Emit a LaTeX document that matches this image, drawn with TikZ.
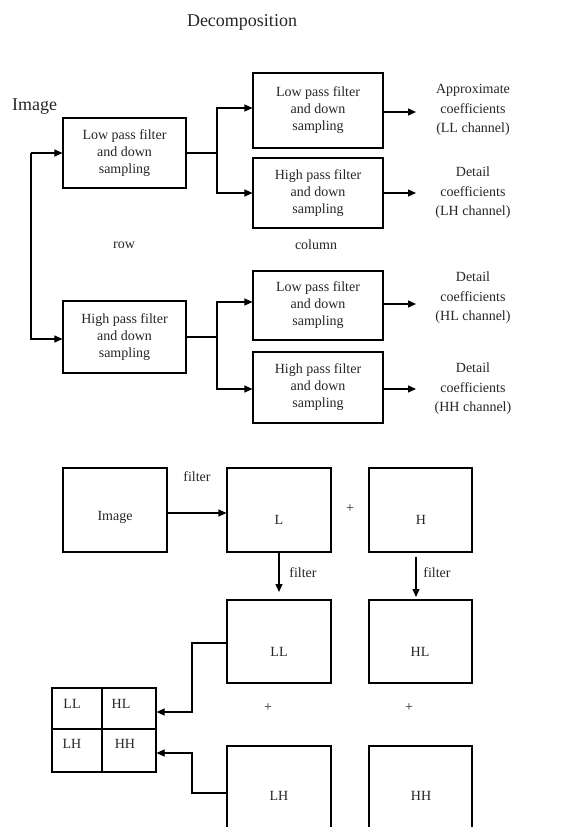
\documentclass[tikz,border=0pt]{standalone}
\usepackage{fontspec}
\setmainfont{Liberation Serif}
\usetikzlibrary{arrows.meta}
\begin{document}
\begin{tikzpicture}[x=1pt,y=-1pt,
  every node/.style={font=\fontsize{14}{17}\selectfont, inner sep=0pt, text=black!85},
  boxnode/.style={draw, line width=1.1pt, align=center},
  line/.style={line width=1.1pt},
  arr/.style={line width=1.1pt, -{Triangle[length=8pt,width=7pt]}},
  outtxt/.style={align=center, font=\fontsize{14}{19.5}\selectfont}]
\fill[white] (0,0) rectangle (566,827);
\useasboundingbox (0,0) rectangle (566,827);

% ---------- Decomposition ----------
\node[font=\fontsize{18}{20}\selectfont] (title) at (242,22) {Decomposition};
\node[font=\fontsize{18}{20}\selectfont, anchor=west] (imglabel) at (12,107) {Image};

\node[boxnode, minimum width=123, minimum height=70] (rowL) at (124.5,153) {Low pass filter\\and down\\sampling};
\node[boxnode, minimum width=123, minimum height=72] (rowH) at (124.5,337) {High pass filter\\and down\\sampling};

\node[boxnode, minimum width=130, minimum height=75] (c1) at (318,110.5) {Low pass filter\\and down\\sampling};
\node[boxnode, minimum width=130, minimum height=70] (c2) at (318,193) {High pass filter\\and down\\sampling};
\node[boxnode, minimum width=130, minimum height=69] (c3) at (318,305.5) {Low pass filter\\and down\\sampling};
\node[boxnode, minimum width=130, minimum height=71] (c4) at (318,387.5) {High pass filter\\and down\\sampling};

\node (row) at (124,245) {row};
\node (column) at (316,245) {column};

\node[outtxt] (o1) at (473,110) {Approximate\\coefficients\\(LL channel)};
\node[outtxt] (o2) at (473,193) {Detail\\coefficients\\(LH channel)};
\node[outtxt] (o3) at (473,298) {Detail\\coefficients\\(HL channel)};
\node[outtxt] (o4) at (473,389) {Detail\\coefficients\\(HH channel)};

\coordinate (e1) at (416,112);
\coordinate (e2) at (416,193);
\coordinate (e3) at (416,304);
\coordinate (e4) at (416,389);
\draw[arr] (c1.east |- e1) -- (e1);
\draw[arr] (c2.east |- e2) -- (e2);
\draw[arr] (c3.east |- e3) -- (e3);
\draw[arr] (c4.east |- e4) -- (e4);

\coordinate (j1) at (217,153);
\coordinate (j2) at (217,337);
\draw[line] (rowL.east) -- (j1);
\draw[arr] (j1) |- (c1.west |- 0,108);
\draw[arr] (j1) |- (c2.west);
\draw[line] (rowH.east) -- (j2);
\draw[arr] (j2) |- (c3.west |- 0,302);
\draw[arr] (j2) |- (c4.west |- 0,389);

\coordinate (s1) at (31,153);
\coordinate (s2) at (31,339);
\draw[arr] (s1) -- (rowL.west);
\draw[arr] (s1) -- (s2) -- (rowH.west |- s2);

% ---------- bottom part ----------
\tikzset{sq/.style={draw, line width=1.1pt, minimum width=104, minimum height=84}}
\node[sq] (img) at (115,510) {};
\node (imgt) at (115,517) {Image};
\node[sq] (L) at (279,510) {};
\node (Lt) at (279,520) {L};
\node[sq, minimum width=103] (H) at (420.5,510) {};
\node (Ht) at (421,520) {H};
\node (f1) at (197,477) {filter};
\node (p1) at (350,509) {+};
\draw[arr] (img.east |- 0,513) -- (L.west |- 0,513);

\node[sq, minimum height=83] (LLb) at (279,641.5) {};
\node (LLt) at (279,652) {LL};
\node[sq, minimum width=103, minimum height=83] (HLb) at (420.5,641.5) {};
\node (HLt) at (420,652) {HL};

\coordinate (a1) at (279,592);
\coordinate (b0) at (416,557);
\coordinate (b1) at (416,597);
\draw[arr] (L.south) -- (a1);
\draw[arr] (b0) -- (b1);
\node (f2) at (303,573) {filter};
\node (f3) at (437,573) {filter};

\node (p2) at (268,708) {+};
\node (p3) at (409,708) {+};

% LH and HH boxes run off the bottom edge
\draw[line] (227,828) -- (227,746) -- (331,746) -- (331,828);
\draw[line] (369,828) -- (369,746) -- (472,746) -- (472,828);
\coordinate (LHw) at (227,793);
\node (LHt) at (279,796) {LH};
\node (HHt) at (421,796) {HH};

% result grid
\node[draw, line width=1.1pt, minimum width=104, minimum height=84] (grid) at (104,730) {};
\draw[line] (102,688) -- (102,772);
\draw[line] (52,729) -- (156,729);
\node (g1) at (72,704) {LL};
\node (g2) at (121,704) {HL};
\node (g3) at (72,744) {LH};
\node (g4) at (125,744) {HH};

\coordinate (LLw) at (227,643);
\coordinate (k1) at (192,643);
\coordinate (k2) at (192,793);
\draw[arr] (LLw) -- (k1) |- (grid.east |- 0,712);
\draw[arr] (LHw) -- (k2) |- (grid.east |- 0,753);
\end{tikzpicture}
\end{document}
